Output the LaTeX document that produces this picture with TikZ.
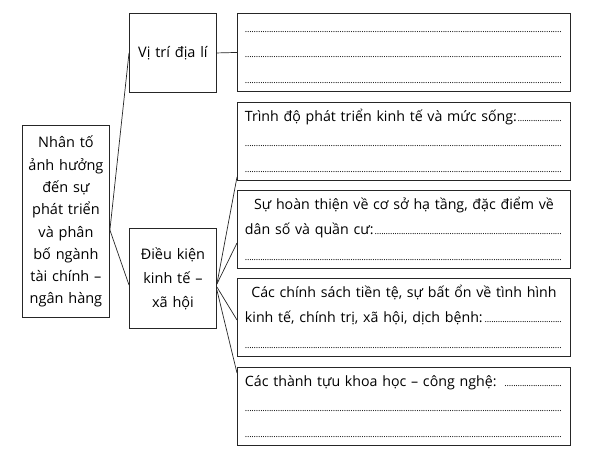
\documentclass[tikz,border=0pt]{standalone}
\usepackage{fontspec}
\setmainfont{Open Sans}
\newcommand\dfill{{\fontsize{9}{9}\selectfont\leaders\hbox to 2.2pt{\hss.\hss}\hfill}}
\newcommand\rline[1]{\makebox[318pt][l]{\strut#1\dfill}}
\newcommand\cenline[1]{\makebox[318pt][c]{\strut#1}}
\begin{document}
\begin{tikzpicture}[x=1pt,y=-1pt,
  box/.style={draw=black!85,line width=0.9pt,inner sep=0pt,anchor=north west,align=center},
  rbox/.style={box,minimum width=333pt,minimum height=78pt,text width=318pt,align=left,
    font=\fontsize{14.2}{25.5}\selectfont},
  conn/.style={draw=black!85,line width=0.7pt}]
\useasboundingbox (0,0) rectangle (589,454);
% left
\node[box,minimum width=87pt,minimum height=192pt,text width=86pt,
  font=\fontsize{14.5}{22.3}\selectfont] (L) at (22,125)
  {\strut Nhân tố\\\strut ảnh hưởng\\\strut đến sự\\\strut phát triển\\\strut và phân\\\strut bố ngành\\\strut tài chính –\\\strut ngân hàng};
\node[box,minimum width=87pt,minimum height=79pt,text width=86pt,
  font=\fontsize{14.5}{24}\selectfont] (V) at (129,13) {\strut Vị trí địa lí};
\node[box,minimum width=87pt,minimum height=100pt,text width=86pt,
  font=\fontsize{14.5}{24}\selectfont] (D) at (129,228)
  {\strut Điều kiện\\\strut kinh tế –\\\strut xã hội};
% right
\node[rbox] (R1) at (237,13) {\rline{}\\\rline{}\\\rline{}};
\node[rbox] (R2) at (237,102) {\rline{Trình độ phát triển kinh tế và mức sống:}\\\rline{}\\\rline{}};
\node[rbox] (R3) at (237,190) {\cenline{Sự hoàn thiện về cơ sở hạ tầng, đặc điểm về}\\\rline{dân số và quần cư:}\\\rline{}};
\node[rbox] (R4) at (237,278) {\cenline{Các chính sách tiền tệ, sự bất ổn về tình hình}\\\rline{kinh tế, chính trị, xã hội, dịch bệnh:}\\\rline{}};
\node[rbox] (R5) at (237,367) {\rline{Các thành tựu khoa học – công nghệ: }\\\rline{}\\\rline{}};
% connectors
\coordinate (Lp) at ([yshift=-105pt]L.north east);
\draw[conn] (Lp) -- (V.west);
\draw[conn] (Lp) -- ([yshift=-57pt]D.north west);
\draw[conn] (V.east) -- (R1.west);
\coordinate (Dp) at ([yshift=-56pt]D.north east);
\coordinate (Dq) at ([yshift=-59pt]D.north east);
\coordinate (Dr) at ([yshift=-62pt]D.north east);
\draw[conn] (Dp) -- ([yshift=-75pt]R2.north west);
\draw[conn] (Dp) -- ([yshift=-53pt]R3.north west);
\draw[conn] (Dq) -- ([yshift=-42pt]R4.north west);
\draw[conn] (Dr) -- ([yshift=-6pt]R5.north west);
\end{tikzpicture}
\end{document}
